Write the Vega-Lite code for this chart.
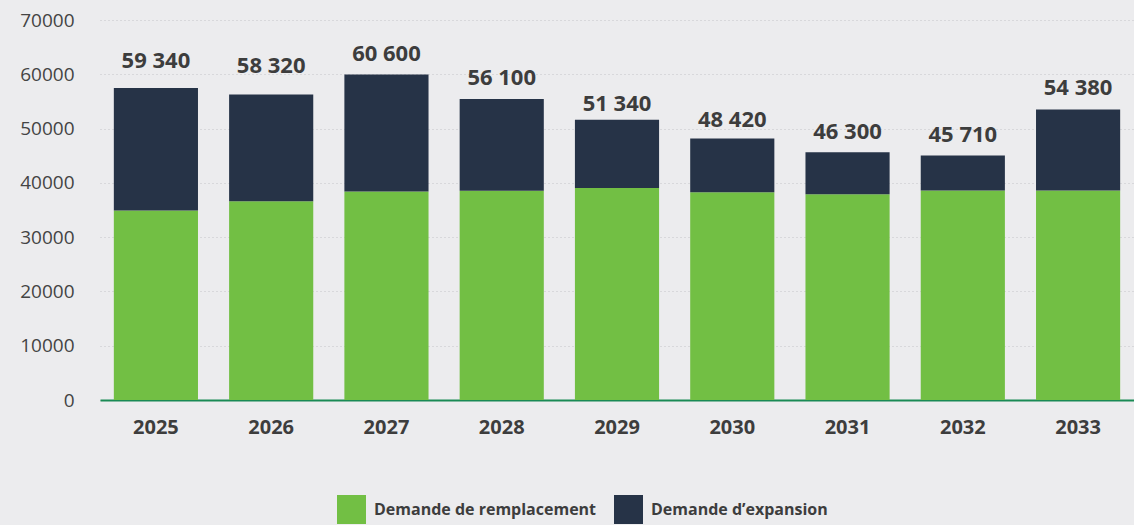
{
  "$schema": "https://vega.github.io/schema/vega-lite/v6.json",
  "autosize": {"type": "none"},
  "width": 1034,
  "height": 380,
  "padding": {"left": 100, "top": 20, "right": 0, "bottom": 125},
  "background": "#ececee",
  "config": {
    "view": {"stroke": null},
    "font": "Open Sans"
  },
  "datasets": {
    "bars": [
      {"year": "2025", "type": "Demande de remplacement", "value": 34900},
      {"year": "2026", "type": "Demande de remplacement", "value": 36630},
      {"year": "2027", "type": "Demande de remplacement", "value": 38400},
      {"year": "2028", "type": "Demande de remplacement", "value": 38530},
      {"year": "2029", "type": "Demande de remplacement", "value": 39030},
      {"year": "2030", "type": "Demande de remplacement", "value": 38290},
      {"year": "2031", "type": "Demande de remplacement", "value": 37920},
      {"year": "2032", "type": "Demande de remplacement", "value": 38590},
      {"year": "2033", "type": "Demande de remplacement", "value": 38590},
      {"year": "2025", "type": "Demande d’expansion", "value": 22570},
      {"year": "2026", "type": "Demande d’expansion", "value": 19660},
      {"year": "2027", "type": "Demande d’expansion", "value": 21580},
      {"year": "2028", "type": "Demande d’expansion", "value": 16910},
      {"year": "2029", "type": "Demande d’expansion", "value": 12590},
      {"year": "2030", "type": "Demande d’expansion", "value": 9890},
      {"year": "2031", "type": "Demande d’expansion", "value": 7740},
      {"year": "2032", "type": "Demande d’expansion", "value": 6450},
      {"year": "2033", "type": "Demande d’expansion", "value": 14930}
    ],
    "labels": [
      {"year": "2025", "total": 59340, "label": "59 340"},
      {"year": "2026", "total": 58320, "label": "58 320"},
      {"year": "2027", "total": 60600, "label": "60 600"},
      {"year": "2028", "total": 56100, "label": "56 100"},
      {"year": "2029", "total": 51340, "label": "51 340"},
      {"year": "2030", "total": 48420, "label": "48 420"},
      {"year": "2031", "total": 46300, "label": "46 300"},
      {"year": "2032", "total": 45710, "label": "45 710"},
      {"year": "2033", "total": 54380, "label": "54 380"}
    ]
  },
  "encoding": {
    "x": {
      "field": "year",
      "type": "nominal",
      "scale": {"paddingInner": 0.27, "paddingOuter": 0.12},
      "axis": {
        "title": null,
        "labelAngle": 0,
        "domain": true,
        "domainColor": "#1a8a55",
        "domainWidth": 2,
        "ticks": false,
        "labelFont": "Open Sans",
        "labelFontWeight": "bold",
        "labelFontSize": 20,
        "labelColor": "#3d3d3d",
        "labelPadding": 17,
        "grid": false
      }
    }
  },
  "layer": [
    {
      "data": {"name": "bars"},
      "mark": {"type": "bar"},
      "encoding": {
        "y": {
          "field": "value",
          "type": "quantitative",
          "aggregate": "sum",
          "stack": "zero",
          "scale": {"domain": [0, 70000], "nice": false},
          "axis": {
            "title": null,
            "values": [0, 10000, 20000, 30000, 40000, 50000, 60000, 70000],
            "format": "d",
            "domain": false,
            "ticks": false,
            "labelFont": "Open Sans",
            "labelFontSize": 19,
            "labelColor": "#444444",
            "labelPadding": 26,
            "grid": true,
            "gridColor": "#c4c4c8",
            "gridDash": [1, 3],
            "gridWidth": 1
          }
        },
        "color": {
          "field": "type",
          "type": "nominal",
          "scale": {
            "domain": ["Demande de remplacement", "Demande d’expansion"],
            "range": ["#72bf44", "#263347"]
          },
          "legend": {
            "title": null,
            "orient": "none",
            "direction": "horizontal",
            "legendX": 237,
            "legendY": 475,
            "symbolType": "square",
            "symbolSize": 841,
            "symbolStrokeWidth": 0,
            "symbolOpacity": 1,
            "labelFont": "Open Sans",
            "labelFontWeight": "bold",
            "labelFontSize": 16,
            "labelColor": "#3d3d3d",
            "labelOffset": 8,
            "columnPadding": 17,
            "labelLimit": 400
          }
        },
        "order": {"field": "type", "sort": "ascending"}
      }
    },
    {
      "data": {"name": "labels"},
      "mark": {
        "type": "text",
        "baseline": "alphabetic",
        "dy": -10,
        "font": "Open Sans",
        "fontWeight": "bold",
        "fontSize": 22,
        "color": "#3d3d3d"
      },
      "encoding": {
        "y": {"field": "total", "type": "quantitative"},
        "text": {"field": "label", "type": "nominal"}
      }
    }
  ]
}
